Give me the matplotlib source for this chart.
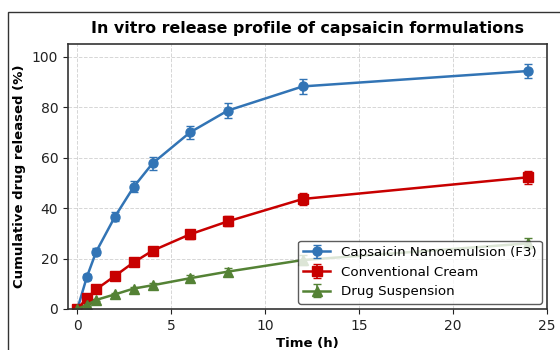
import matplotlib
matplotlib.use("Agg")
import matplotlib.pyplot as plt
from matplotlib.patches import Rectangle

time_h = [0, 0.5, 1, 2, 3, 4, 6, 8, 12, 24]
nano = [0, 12.6, 22.7, 36.6, 48.4, 57.7, 70.0, 78.6, 88.2, 94.3]
nano_err = [0, 1.2, 1.5, 1.8, 2.2, 2.5, 2.6, 3.0, 3.0, 2.8]
cream = [0, 4.2, 7.8, 13.1, 18.5, 23.1, 29.6, 34.7, 43.6, 52.2]
cream_err = [0, 0.6, 0.8, 1.0, 1.2, 1.5, 1.8, 2.0, 2.2, 2.5]
susp = [0, 1.6, 3.6, 5.8, 8.1, 9.4, 12.2, 14.8, 19.4, 26.0]
susp_err = [0, 0.3, 0.5, 0.7, 0.8, 1.0, 1.2, 1.5, 1.8, 2.0]
labels = ["Capsaicin Nanoemulsion (F3)", "Conventional Cream", "Drug Suspension"]

fig = plt.figure(figsize=(5.6, 3.5), dpi=100)
ax = fig.add_axes([68/560, 1-309/350, (547-68)/560, (309-44)/350])

series = [(nano, nano_err, "#3274b5", "o"),
          (cream, cream_err, "#c80000", "s"),
          (susp, susp_err, "#548235", "^")]
for (vals, err, col, mk), lab in zip(series, labels):
    ax.errorbar(time_h, vals, yerr=err, color=col, marker=mk, markersize=6.5,
                linewidth=1.8, capsize=3, elinewidth=1.2, label=lab)

ax.set_xlim(-0.5, 25)
ax.set_ylim(0, 105)
ax.set_xticks([0, 5, 10, 15, 20, 25])
ax.set_yticks([0, 20, 40, 60, 80, 100])
ax.grid(True, linestyle="--", color="#cccccc", linewidth=0.7, alpha=0.8)
ax.tick_params(labelsize=10, colors="#222222")
for s in ax.spines.values():
    s.set_color("#333333")
    s.set_linewidth(1.2)
ax.set_xlabel("Time (h)", fontsize=9.5, fontweight="bold", labelpad=3)
ax.set_ylabel("Cumulative drug released (%)", fontsize=9.5, fontweight="bold")
ax.set_title("In vitro release profile of capsaicin formulations", fontsize=11.4,
             fontweight="bold", pad=8)
leg = ax.legend(loc="lower right", fontsize=9.6, frameon=True, fancybox=True,
                edgecolor="#333333", framealpha=0.8, borderaxespad=0.4)

fig.patches.append(Rectangle((8/560, -0.1), 1.2, 1 - 12/350 + 0.1,
                             transform=fig.transFigure, fill=False,
                             edgecolor="#333333", linewidth=1.0))
fig.savefig("out.png", dpi=100)
